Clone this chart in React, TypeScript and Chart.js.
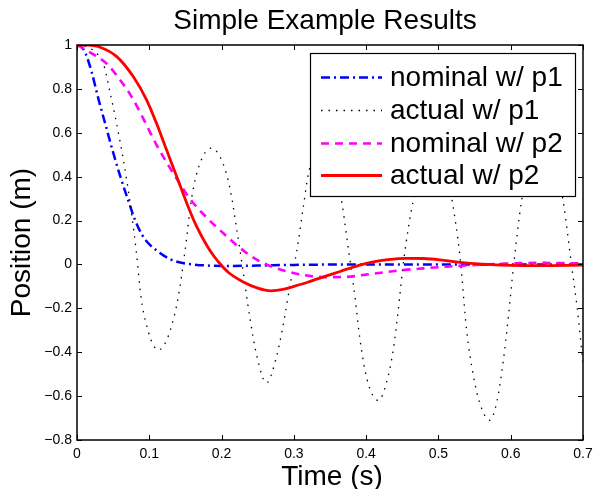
import React, { useEffect, useRef } from "react";
import { Chart, registerables } from "chart.js";

Chart.register(...registerables);

const chartTitle = "Simple Example Results";
const xAxisTitle = "Time (s)";
const yAxisTitle = "Position (m)";

const xTickValues = [0, 0.1, 0.2, 0.3, 0.4, 0.5, 0.6, 0.7];
const xTickLabels = ["0", "0.1", "0.2", "0.3", "0.4", "0.5", "0.6", "0.7"];
const yTickValues = [-0.8, -0.6, -0.4, -0.2, 0, 0.2, 0.4, 0.6, 0.8, 1];
const yTickLabels = ["\u22120.8", "\u22120.6", "\u22120.4", "\u22120.2", "0", "0.2", "0.4", "0.6", "0.8", "1"];

const seriesLabels = ["nominal w/ p1", "actual w/ p1", "nominal w/ p2", "actual w/ p2"];

// nominal w/ p1 (blue dash-dot)
const nomP1T = [0, 0.0065, 0.012, 0.02, 0.03, 0.04, 0.05, 0.06, 0.07, 0.08, 0.09, 0.1, 0.11, 0.12, 0.13, 0.14, 0.15, 0.16, 0.18, 0.2, 0.25, 0.3, 0.4, 0.5, 0.6, 0.7];
const nomP1V = [1, 0.99, 0.96, 0.88, 0.75, 0.63, 0.51, 0.4, 0.3, 0.205, 0.135, 0.092, 0.064, 0.04, 0.022, 0.011, 0.004, 0, -0.005, -0.007, -0.005, -0.002, 0, 0, 0, 0];

// actual w/ p1 (black dotted)
const actP1T = [0, 0.015, 0.028, 0.036, 0.046, 0.059, 0.069, 0.076, 0.082, 0.089, 0.099, 0.106, 0.1125, 0.12, 0.129, 0.14, 0.149, 0.159, 0.17, 0.186, 0.202, 0.212, 0.221, 0.228, 0.239, 0.249, 0.262, 0.276, 0.285, 0.295, 0.304, 0.313, 0.32, 0.342, 0.364, 0.375, 0.385, 0.391, 0.401, 0.417, 0.428, 0.4375, 0.444, 0.452, 0.465, 0.495, 0.518, 0.53, 0.539, 0.548, 0.557, 0.571, 0.5805, 0.5897, 0.5967, 0.6035, 0.615, 0.645, 0.673, 0.684, 0.692, 0.7];
const actP1V = [1, 0.99, 0.96, 0.92, 0.78, 0.57, 0.38, 0.22, 0.06, -0.16, -0.31, -0.37, -0.39, -0.37, -0.3, -0.15, 0.05, 0.31, 0.46, 0.53, 0.46, 0.34, 0.16, 0.01, -0.24, -0.42, -0.54, -0.42, -0.28, -0.09, 0.06, 0.26, 0.41, 0.6, 0.33, 0.08, -0.16, -0.33, -0.52, -0.62, -0.54, -0.39, -0.22, 0.02, 0.29, 0.68, 0.31, 0.03, -0.3, -0.5, -0.63, -0.71, -0.63, -0.44, -0.24, -0.02, 0.29, 0.75, 0.28, 0, -0.2, -0.45];

// nominal w/ p2 (magenta dashed)
const nomP2T = [0, 0.0203, 0.041, 0.057, 0.0733, 0.085, 0.0964, 0.11, 0.124, 0.138, 0.156, 0.179, 0.2025, 0.2255, 0.2485, 0.2716, 0.2946, 0.318, 0.345, 0.37, 0.41, 0.447, 0.479, 0.511, 0.548, 0.594, 0.64, 0.7];
const nomP2V = [1, 0.962, 0.915, 0.852, 0.776, 0.708, 0.634, 0.545, 0.465, 0.39, 0.3, 0.215, 0.142, 0.075, 0.022, -0.012, -0.035, -0.05, -0.058, -0.057, -0.042, -0.027, -0.018, -0.01, -0.003, 0.004, 0.007, 0.005];

// actual w/ p2 (red solid)
const actP2T = [0, 0.015, 0.032, 0.055, 0.078, 0.0964, 0.11, 0.124, 0.138, 0.152, 0.1656, 0.179, 0.19, 0.2, 0.21, 0.23, 0.25, 0.268, 0.285, 0.3, 0.32, 0.345, 0.364, 0.39, 0.41, 0.43, 0.456, 0.48, 0.502, 0.53, 0.56, 0.6, 0.64, 0.7];
const actP2V = [1, 0.999, 0.99, 0.947, 0.855, 0.749, 0.643, 0.521, 0.4, 0.278, 0.172, 0.09, 0.035, -0.005, -0.038, -0.08, -0.108, -0.12, -0.114, -0.1, -0.08, -0.052, -0.032, -0.004, 0.012, 0.022, 0.028, 0.027, 0.021, 0.009, 0.001, -0.004, -0.005, -0.003];

const FONT = "'Liberation Sans', Arial, Helvetica, sans-serif";

const toPoints = (ts: number[], vs: number[]) => ts.map((t, i) => ({ x: t, y: vs[i] }));

const noScalePadding = (s: any) => {
  s.paddingLeft = 0;
  s.paddingRight = 0;
  s.paddingTop = 0;
  s.paddingBottom = 0;
};

const framePlugin = {
  id: "matlabFrame",
  afterDatasetsDraw(chart: any) {
    const { ctx, chartArea: a, scales } = chart;
    const xs = scales.x;
    const ys = scales.y;
    ctx.save();
    ctx.strokeStyle = "#000";
    ctx.lineWidth = 1.5;
    ctx.strokeRect(a.left, a.top, a.right - a.left, a.bottom - a.top);
    ctx.lineWidth = 1;
    ctx.beginPath();
    const tl = 5;
    for (const v of xTickValues) {
      const px = Math.round(xs.getPixelForValue(v)) + 0.5;
      ctx.moveTo(px, a.bottom);
      ctx.lineTo(px, a.bottom - tl);
      ctx.moveTo(px, a.top);
      ctx.lineTo(px, a.top + tl);
    }
    for (const v of yTickValues) {
      const py = Math.round(ys.getPixelForValue(v)) + 0.5;
      ctx.moveTo(a.left, py);
      ctx.lineTo(a.left + tl, py);
      ctx.moveTo(a.right, py);
      ctx.lineTo(a.right - tl, py);
    }
    ctx.stroke();

    // legend box
    const bx = a.right - 273;
    const by = a.top + 8;
    const bw = 265;
    const bh = 143;
    ctx.fillStyle = "#fff";
    ctx.fillRect(bx, by, bw, bh);
    ctx.strokeStyle = "#000";
    ctx.lineWidth = 1.2;
    ctx.strokeRect(bx + 0.5, by + 0.5, bw, bh);
    const rowH = 32.8;
    ctx.font = `28px ${FONT}`;
    ctx.textBaseline = "middle";
    ctx.textAlign = "left";
    chart.data.datasets.forEach((ds: any, i: number) => {
      const cy = Math.round(by + 24 + i * rowH) + 0.5;
      ctx.save();
      ctx.strokeStyle = ds.borderColor;
      ctx.lineWidth = ds.borderWidth;
      ctx.setLineDash(ds.borderDash || []);
      ctx.beginPath();
      ctx.moveTo(bx + 11, cy);
      ctx.lineTo(bx + 72, cy);
      ctx.stroke();
      ctx.restore();
      ctx.fillStyle = "#000";
      ctx.fillText(ds.label, bx + 80, cy + 1);
    });
    ctx.restore();
  },
  afterDraw(chart: any) {
    const { ctx, chartArea: a } = chart;
    ctx.save();
    ctx.fillStyle = "#000";
    ctx.font = `28px ${FONT}`;
    ctx.textAlign = "center";
    ctx.textBaseline = "alphabetic";
    ctx.fillText(chartTitle, (a.left + a.right) / 2 - 5, 29);
    ctx.fillText(xAxisTitle, (a.left + a.right) / 2 + 2, 485);
    ctx.translate(30, (a.top + a.bottom) / 2);
    ctx.rotate(-Math.PI / 2);
    ctx.fillText(yAxisTitle, 0, 0);
    ctx.restore();
  },
};

export default function App() {
  const canvasRef = useRef<HTMLCanvasElement | null>(null);

  useEffect(() => {
    const canvas = canvasRef.current;
    if (!canvas) return;
    const chart = new Chart(canvas, {
      type: "line",
      data: {
        datasets: [
          {
            label: seriesLabels[0],
            data: toPoints(nomP1T, nomP1V),
            borderColor: "#0000ff",
            borderWidth: 2.5,
            borderDash: [9, 4, 2, 4],
            order: 4,
          },
          {
            label: seriesLabels[1],
            data: toPoints(actP1T, actP1V),
            borderColor: "#000000",
            borderWidth: 1.3,
            borderDash: [1.5, 6],
            order: 3,
          },
          {
            label: seriesLabels[2],
            data: toPoints(nomP2T, nomP2V),
            borderColor: "#ff00ff",
            borderWidth: 2.6,
            borderDash: [8, 6],
            order: 2,
          },
          {
            label: seriesLabels[3],
            data: toPoints(actP2T, actP2V),
            borderColor: "#ff0000",
            borderWidth: 2.8,
            order: 1,
          },
        ] as any,
      },
      options: {
        responsive: false,
        animation: false,
        devicePixelRatio: 1,
        layout: { padding: { left: 0, right: 11, top: 45, bottom: 0 } },
        elements: {
          point: { radius: 0 },
          line: { cubicInterpolationMode: "monotone", fill: false },
        },
        plugins: {
          legend: { display: false },
          tooltip: { enabled: false },
          title: { display: false },
        },
        scales: {
          x: {
            type: "linear",
            min: 0,
            max: 0.7,
            afterBuildTicks: (s: any) => {
              s.ticks = xTickValues.map((v) => ({ value: v }));
            },
            afterFit: (s: any) => {
              s.height = 49;
              noScalePadding(s);
            },
            grid: { display: false, drawTicks: false },
            border: { display: false },
            ticks: {
              autoSkip: false,
              maxRotation: 0,
              padding: 6,
              color: "#000",
              font: { family: FONT, size: 14 },
              callback: (_v: any, i: number) => xTickLabels[i],
            },
          },
          y: {
            type: "linear",
            min: -0.8,
            max: 1,
            afterBuildTicks: (s: any) => {
              s.ticks = yTickValues.map((v) => ({ value: v }));
            },
            afterFit: (s: any) => {
              s.width = 77;
              noScalePadding(s);
            },
            grid: { display: false, drawTicks: false },
            border: { display: false },
            ticks: {
              autoSkip: false,
              padding: 5,
              color: "#000",
              font: { family: FONT, size: 14 },
              callback: (_v: any, i: number) => yTickLabels[i],
            },
          },
        },
      } as any,
      plugins: [framePlugin],
    });
    return () => chart.destroy();
  }, []);

  return (
    <div style={{ position: "fixed", left: 0, top: 0, width: 594, height: 489, background: "#fff" }}>
      <canvas ref={canvasRef} width={594} height={489} style={{ display: "block", width: 594, height: 489 }} />
    </div>
  );
}
